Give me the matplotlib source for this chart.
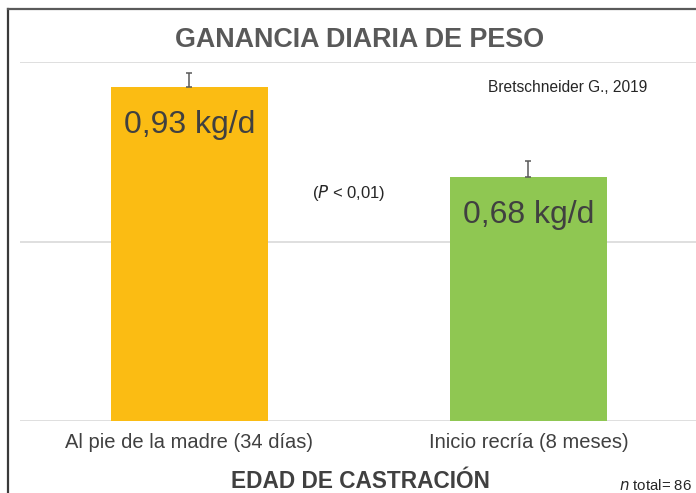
import matplotlib
matplotlib.use("Agg")
import matplotlib.pyplot as plt
from matplotlib.lines import Line2D

categories = ["Al pie de la madre (34 días)", "Inicio recría (8 meses)"]
values = [0.93, 0.68]
errors = [0.04, 0.045]
value_labels = ["0,93 kg/d", "0,68 kg/d"]
colors = ["#FBBC13", "#8FC752"]

plt.rcParams['font.family'] = ['Liberation Sans', 'DejaVu Sans']

W, H = 696, 493
fig = plt.figure(figsize=(W / 100, H / 100), dpi=100)
ax = fig.add_axes([20 / W, 72 / H, 678 / W, 359 / H])

x = list(range(len(categories)))
ax.bar(x, values, width=0.463, color=colors, zorder=3)
ax.errorbar(x, values, yerr=[[0, 0], errors], fmt='none', ecolor='#595959',
            elinewidth=1.1, capsize=2.5, capthick=1.1, zorder=4)

for xi, v, lab in zip(x, values, value_labels):
    ax.text(xi, v - 0.105, lab, ha='center', va='center', fontsize=23,
            color='#404040', zorder=5)

ax.set_xlim(-0.5, 1.5)
ax.set_ylim(0, 1.0)
ax.set_yticks([0, 0.5, 1.0])
ax.yaxis.grid(True, color='#D9D9D9', linewidth=1.2, zorder=0)
ax.tick_params(axis='y', left=False, labelleft=False)
ax.tick_params(axis='x', bottom=False, labelsize=14.5, labelcolor='#404040', pad=5)
ax.set_xticks(x)
ax.set_xticklabels(categories)
for s in ax.spines.values():
    s.set_visible(False)

fig.text(360 / W, 1 - 40 / H, "GANANCIA DIARIA DE PESO", ha='center', va='center',
         fontsize=19.4, fontweight='bold', color='#595959')
fig.text(360 / W, 1 - 481 / H, "EDAD DE CASTRACIÓN", ha='center', va='center',
         fontsize=16.3, fontweight='bold', color='#404040')
fig.text(568 / W, 1 - 88 / H, "Bretschneider G., 2019", ha='center', va='center',
         fontsize=11.2, color='#262626')
fig.text(349 / W, 1 - 193 / H, r"($\it{P}$ < 0,01)", ha='center', va='center',
         fontsize=12, color='#262626')
fig.text(692 / W, 1 - 486 / H, r"$\it{n}$ total= 86", ha='right', va='center',
         fontsize=10.8, color='#262626')

# frame
fig.add_artist(Line2D([7.5 / W, 7.5 / W], [0, 1 - 9 / H], color='#3a3a3a', linewidth=1.6,
                      transform=fig.transFigure))
fig.add_artist(Line2D([7.5 / W, 1], [1 - 9 / H, 1 - 9 / H], color='#5a5a5a', linewidth=1.6,
                      transform=fig.transFigure))

fig.savefig("out.png", dpi=100)
